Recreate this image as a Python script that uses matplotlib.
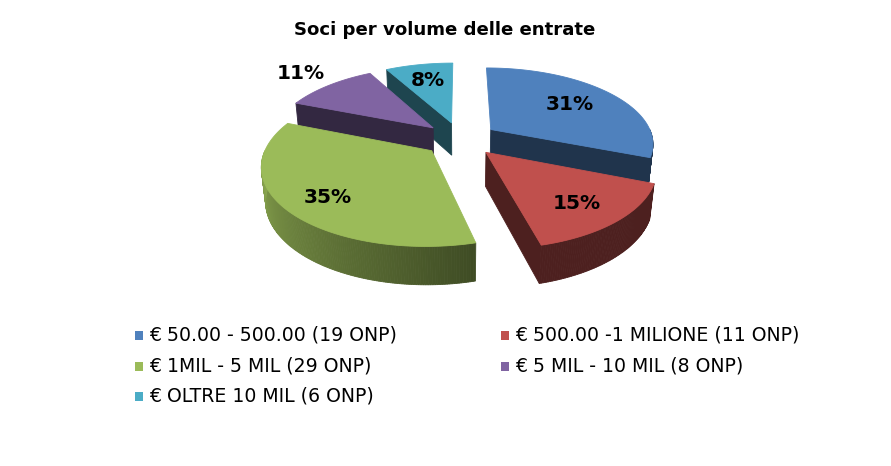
import numpy as np
import matplotlib
matplotlib.use('Agg')
import matplotlib.pyplot as plt
from matplotlib.patches import Polygon, Rectangle
from matplotlib.colors import to_rgb

# ---- data ----
title = 'Soci per volume delle entrate'
categories = ['€ 50.00 - 500.00 (19 ONP)', '€ 500.00 -1 MILIONE (11 ONP)',
              '€ 1MIL - 5 MIL (29 ONP)', '€ 5 MIL - 10 MIL (8 ONP)',
              '€ OLTRE 10 MIL (6 ONP)']
percent = [31, 15, 35, 11, 8]
colors = ['#4F81BD', '#C0504D', '#9BBB59', '#8064A2', '#4BACC6']

# ---- style / layout ----
label_rho = [0.65, 0.72, 0.74, 1.31, 0.70]
label_dy = [0, 4, 5, 0, 0]
OX, OY, F = 460.5, 139.0, 162.5
SPHI = 0.4615
CPHI = np.sqrt(1 - SPHI ** 2)
D = CPHI / 0.17
H = 0.235
EXPL = 0.23

fig = plt.figure(figsize=(8.91, 4.66), dpi=100)
ax = fig.add_axes([0, 0, 1, 1])
ax.set_xlim(0, 891)
ax.set_ylim(466, 0)
ax.axis('off')


def proj(u, v, z):
    w = 1 + (v * CPHI - z * SPHI) / D
    return OX + F * u / w, OY - F * (v * SPHI + z * CPHI) / w


def shade(c, f):
    return tuple(np.clip(np.array(to_rgb(c)) * f, 0, 1))


def poly(pts, col, z):
    ax.add_patch(Polygon(pts, closed=True, facecolor=col, edgecolor=col,
                         linewidth=0.6, zorder=z))


bounds = np.concatenate([[0], np.cumsum(percent)]) / sum(percent) * 360.0
slices = []
for i in range(len(percent)):
    t1, t2 = bounds[i], bounds[i + 1]
    m = np.radians((t1 + t2) / 2)
    slices.append(dict(i=i, t1=t1, t2=t2, m=m,
                       du=EXPL * np.sin(m), dv=EXPL * np.cos(m)))

order = sorted(slices, key=lambda s: -s['dv'])
z = 1
for s in order:
    c = colors[s['i']]
    du, dv = s['du'], s['dv']

    def rim(th, zz):
        r = np.radians(th)
        return proj(du + np.sin(r), dv + np.cos(r), zz)

    ctop = proj(du, dv, 0)
    cbot = proj(du, dv, -H)
    # radial cut faces
    for th, vis in ((s['t1'], np.sin(np.radians(s['t1'])) < -1e-6),
                    (s['t2'], np.sin(np.radians(s['t2'])) > 1e-6)):
        if vis:
            poly([ctop, rim(th, 0), rim(th, -H), cbot], shade(c, 0.40), z)
    # outer curved side
    a, b = max(s['t1'], 90), min(s['t2'], 270)
    if b > a:
        n = int(np.ceil((b - a) / 0.7))
        ths = np.linspace(a, b, n + 1)
        for k in range(n):
            tm = 0.5 * (ths[k] + ths[k + 1])
            f = 0.40 + 0.50 * np.clip((tm - 165) / 105.0, 0, 1)
            poly([rim(ths[k], 0), rim(ths[k + 1], 0), rim(ths[k + 1], -H),
                  rim(ths[k], -H)], shade(c, f), z)
    # top face
    ths = np.linspace(s['t1'], s['t2'], 120)
    poly([ctop] + [rim(t, 0) for t in ths], c, z + 0.5)
    z += 1

# data labels
for s in slices:
    t = label_rho[s['i']] + EXPL
    x, y = proj(t * np.sin(s['m']), t * np.cos(s['m']), 0)
    ax.text(x, y + label_dy[s['i']], f"{percent[s['i']]}%", ha='center',
            va='center', fontsize=14.5, fontweight='bold', color='black',
            family='DejaVu Sans', zorder=50)

# title
ax.text(444.5, 30, title, ha='center', va='center', fontsize=13.1,
        fontweight='bold', family='DejaVu Sans', zorder=50)

# legend
col_x = [135, 501]
row_y = [335, 366, 396]
for i, lab in enumerate(categories):
    cx = col_x[i % 2]
    cy = row_y[i // 2]
    ax.add_patch(Rectangle((cx, cy - 4.5), 8, 9, facecolor=colors[i],
                           edgecolor='none', zorder=50))
    ax.text(cx + 14.5, cy, lab, ha='left', va='center', family='DejaVu Sans',
            fontsize=13.6, color='black', zorder=50)

fig.savefig('out.png', dpi=100)
